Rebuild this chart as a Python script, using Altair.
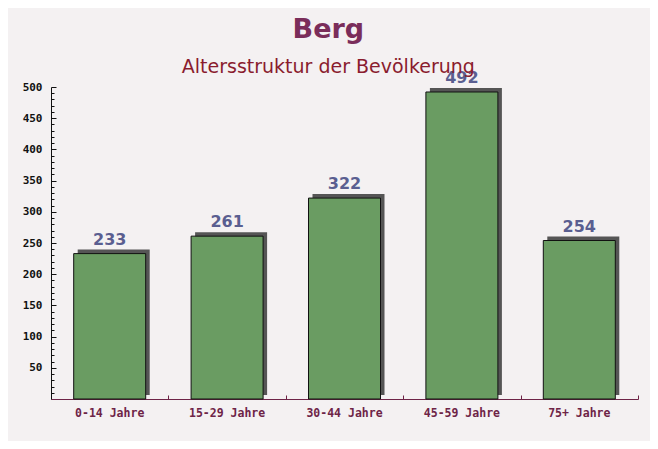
import altair as alt
import pandas as pd

categories = ["0-14 Jahre", "15-29 Jahre", "30-44 Jahre", "45-59 Jahre", "75+ Jahre"]
values = [233, 261, 322, 492, 254]
y_labels = [50, 100, 150, 200, 250, 300, 350, 400, 450, 500]
y_minor = [v for v in range(10, 500, 10) if v % 50 != 0]

df = pd.DataFrame({"cat": categories, "val": values})

maroon = "#6e2447"
xs = alt.Scale(domain=categories, paddingInner=0, paddingOuter=0)
ys = alt.Scale(domain=[0, 500], nice=False, zero=True)

base = alt.Chart(df)

shadow = base.mark_bar(color="#555555", width=72, xOffset=4, yOffset=-4, y2Offset=4).encode(
    x=alt.X("cat:N", scale=xs, sort=categories, axis=None),
    y=alt.Y("val:Q", scale=ys, axis=None),
)

bars = base.mark_bar(color="#6a9c62", stroke="#111111", strokeWidth=1, width=72).encode(
    x=alt.X("cat:N", scale=xs, sort=categories, title=None,
            axis=alt.Axis(orient="bottom", ticks=False, domainColor=maroon, domainWidth=1,
                          labelColor=maroon, labelFont="DejaVu Sans Mono", labelFontWeight="bold",
                          labelFontSize=11.5, labelPadding=8, labelAngle=0, grid=False)),
    y=alt.Y("val:Q", scale=ys, title=None,
            axis=alt.Axis(orient="left", values=y_labels, ticks=False, domainColor="#111111",
                          labelColor="#111111", labelFont="DejaVu Sans Mono", labelFontWeight="bold",
                          labelFontSize=11, labelPadding=9, grid=False)),
)

labels = base.mark_text(baseline="bottom", dy=-6, font="DejaVu Sans", fontWeight="bold",
                        fontSize=16, color="#5a5e90").encode(
    x=alt.X("cat:N", scale=xs, sort=categories, axis=None),
    y=alt.Y("val:Q", scale=ys, axis=None),
    text="val:Q",
)

major_ticks = base.mark_bar(opacity=0).encode(
    x=alt.X("cat:N", scale=xs, sort=categories, title=None,
            axis=alt.Axis(orient="bottom", offset=-4, tickSize=4, tickBand="extent", labels=False,
                          domain=False, tickColor=maroon, grid=False)),
    y=alt.Y("val:Q", scale=ys, title=None,
            axis=alt.Axis(orient="left", offset=-5, tickSize=5, values=y_labels, labels=False,
                          domain=False, tickColor="#111111", grid=False)),
)

minor_ticks = base.mark_bar(opacity=0).encode(
    x=alt.X("cat:N", scale=xs, sort=categories, axis=None),
    y=alt.Y("val:Q", scale=ys, title=None,
            axis=alt.Axis(orient="left", offset=-3, tickSize=3, values=y_minor, labels=False,
                          domain=False, tickColor="#111111", grid=False)),
)

chart = alt.layer(shadow, bars, labels, major_ticks, minor_ticks).resolve_axis(
    x="independent", y="independent"
).properties(
    width=587,
    height=312,
    title=alt.TitleParams(
        text="Berg",
        subtitle="Altersstruktur der Bevölkerung",
        anchor="middle",
        frame="bounds",
        font="DejaVu Sans",
        fontSize=27,
        fontWeight="bold",
        color="#7a2d5a",
        subtitleFont="DejaVu Sans",
        subtitleFontSize=19,
        subtitleColor="#8a1c2e",
        subtitlePadding=14,
        offset=6,
        dy=14,
        dx=-2,
    ),
    autosize=alt.AutoSizeParams(type="none"),
    padding={"left": 43, "top": 79, "right": 12, "bottom": 42},
    background="#f4f1f2",
).configure_view(stroke=None)

chart.save("out.html", embed_options={"renderer": "svg", "actions": False})
